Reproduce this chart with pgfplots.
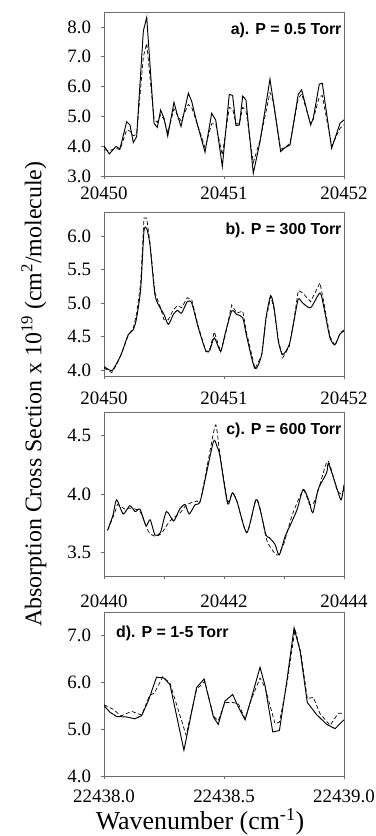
\documentclass[border=0pt]{standalone}
\usepackage{fontspec}
\setmainfont{Liberation Serif}
\newfontfamily\lsans{Liberation Sans}
\usepackage{pgfplots}
\pgfplotsset{compat=1.18}
\tikzset{plab/.style={font=\lsans\bfseries\fontsize{16}{16}\selectfont, inner sep=0pt}}
\begin{document}
\begin{tikzpicture}
\useasboundingbox (0bp,0bp) rectangle (376bp,836bp);
\pgfplotsset{
  panel/.style={
    width=240bp, height=164bp, scale only axis,
    anchor=south west,
    axis line style={draw=gray!85!black, line width=0.8bp},
    every tick/.style={draw=gray!85!black, line width=0.8bp},
    tick align=outside, major tick length=3.5bp,
    tick pos=left,
    scaled x ticks=false, scaled y ticks=false,
    tick label style={font=\fontsize{19}{19}\selectfont},
    yticklabel style={/pgf/number format/.cd, fixed, fixed zerofill, precision=1, assume math mode=true},
    yticklabel shift=6bp,
    clip=true,
  },
  solidl/.style={black, line width=0.95bp, mark=none},
  dashl/.style={black, line width=0.7bp, dash pattern=on 4bp off 2.5bp, mark=none},
}
% ---------- a
\begin{axis}[panel, at={(104bp,660bp)},
  xmin=20450, xmax=20452, ymin=3, ymax=8.5,
  xtick={20450,20451,20452}, xticklabels={20450,20451,20452},
  xticklabel shift=4bp,
  ytick={3,4,5,6,7,8}]
\addplot[solidl] coordinates {(20450.000,4.01)(20450.044,3.74)(20450.100,3.99)(20450.133,3.91)(20450.189,4.82)(20450.217,4.71)(20450.244,4.12)(20450.272,4.32)(20450.328,7.87)(20450.356,8.32)(20450.417,4.77)(20450.444,4.63)(20450.472,5.21)(20450.500,4.94)(20450.531,4.34)(20450.583,5.47)(20450.611,5.05)(20450.642,4.66)(20450.703,5.78)(20450.731,5.50)(20450.772,4.82)(20450.842,3.80)(20450.897,5.10)(20450.931,4.88)(20450.986,3.32)(20451.044,5.74)(20451.072,5.70)(20451.100,4.69)(20451.128,4.71)(20451.156,5.68)(20451.183,5.55)(20451.244,3.09)(20451.300,4.15)(20451.383,6.25)(20451.411,5.50)(20451.472,3.82)(20451.508,3.95)(20451.550,4.04)(20451.619,5.74)(20451.647,5.89)(20451.722,4.71)(20451.744,4.94)(20451.794,6.08)(20451.819,6.11)(20451.897,3.93)(20451.967,4.77)(20452.000,4.88)};
\addplot[dashl] coordinates {(20450.000,3.88)(20450.044,3.85)(20450.100,3.93)(20450.133,3.88)(20450.189,4.55)(20450.217,4.50)(20450.244,4.35)(20450.272,4.40)(20450.328,7.00)(20450.356,7.45)(20450.417,4.90)(20450.444,4.80)(20450.472,5.05)(20450.500,4.90)(20450.531,4.45)(20450.583,5.25)(20450.611,5.05)(20450.642,4.85)(20450.703,5.40)(20450.731,5.30)(20450.842,3.95)(20450.897,4.75)(20450.931,4.75)(20450.986,3.70)(20451.044,5.30)(20451.072,5.25)(20451.100,4.75)(20451.128,4.75)(20451.156,5.30)(20451.183,5.20)(20451.244,3.45)(20451.300,4.20)(20451.383,5.80)(20451.411,5.50)(20451.472,3.90)(20451.508,3.95)(20451.550,4.10)(20451.619,5.60)(20451.647,5.75)(20451.722,4.75)(20451.744,4.90)(20451.794,5.65)(20451.819,5.70)(20451.897,4.00)(20451.967,4.60)(20452.000,4.72)};
\node[plab, anchor=east] at (rel axis cs:0.99,0.885) {a). P = 0.5 Torr};
\end{axis}
% ---------- b
\begin{axis}[panel, at={(104bp,460bp)},
  xmin=20450, xmax=20452, ymin=3.91, ymax=6.36,
  xtick={20450,20451,20452}, xticklabels={20450,20451,20452},
  xticklabel shift=9bp,
  ytick={4,4.5,5,5.5,6}]
\addplot[solidl, smooth, tension=0.4] coordinates {(20450.000,4.05)(20450.064,3.99)(20450.106,4.10)(20450.147,4.25)(20450.203,4.53)(20450.244,4.60)(20450.272,4.78)(20450.306,5.22)(20450.333,6.07)(20450.356,6.11)(20450.383,5.87)(20450.425,5.12)(20450.467,4.93)(20450.500,4.83)(20450.536,4.68)(20450.578,4.83)(20450.611,4.89)(20450.647,4.85)(20450.694,5.02)(20450.731,5.00)(20450.786,4.63)(20450.850,4.28)(20450.883,4.30)(20450.919,4.48)(20450.972,4.28)(20451.008,4.53)(20451.064,4.88)(20451.106,4.83)(20451.156,4.78)(20451.189,4.50)(20451.258,4.02)(20451.314,4.23)(20451.350,4.78)(20451.389,5.11)(20451.417,4.93)(20451.453,4.43)(20451.489,4.23)(20451.544,4.38)(20451.583,4.73)(20451.619,5.06)(20451.656,5.00)(20451.722,4.93)(20451.800,5.15)(20451.833,4.93)(20451.883,4.48)(20451.925,4.38)(20451.967,4.54)(20452.000,4.58)};
\addplot[dashl] coordinates {(20450.000,4.03)(20450.064,3.96)(20450.106,4.08)(20450.147,4.25)(20450.203,4.52)(20450.244,4.62)(20450.272,4.85)(20450.306,5.30)(20450.333,6.27)(20450.356,6.27)(20450.383,5.90)(20450.425,5.15)(20450.467,4.95)(20450.500,4.75)(20450.536,4.75)(20450.578,4.90)(20450.611,4.96)(20450.647,4.93)(20450.694,5.08)(20450.731,5.05)(20450.786,4.65)(20450.850,4.27)(20450.883,4.32)(20450.919,4.57)(20450.972,4.27)(20451.008,4.50)(20451.064,4.97)(20451.106,4.85)(20451.156,4.88)(20451.189,4.55)(20451.258,4.02)(20451.314,4.22)(20451.350,4.75)(20451.389,5.10)(20451.417,4.92)(20451.453,4.45)(20451.489,4.18)(20451.544,4.35)(20451.583,4.75)(20451.619,5.19)(20451.656,5.15)(20451.722,5.02)(20451.800,5.30)(20451.833,5.00)(20451.883,4.50)(20451.925,4.36)(20451.967,4.55)(20452.000,4.60)};
\node[plab, anchor=east] at (rel axis cs:0.99,0.885) {b). P = 300 Torr};
\end{axis}
% ---------- c
\begin{axis}[panel, at={(104bp,260bp)},
  xmin=20440, xmax=20444, ymin=3.3, ymax=4.7,
  xtick={20440,20441,20442,20443,20444}, xticklabels={20440,,20442,,20444},
  xticklabel shift=12bp,
  ytick={3.5,4,4.5}]
\addplot[solidl, smooth, tension=0.4] coordinates {(20440.06,3.69)(20440.15,3.82)(20440.21,3.95)(20440.32,3.83)(20440.43,3.90)(20440.52,3.85)(20440.60,3.87)(20440.70,3.73)(20440.77,3.78)(20440.85,3.65)(20440.94,3.67)(20441.04,3.85)(20441.16,3.77)(20441.26,3.87)(20441.35,3.91)(20441.42,3.83)(20441.52,3.91)(20441.61,3.95)(20441.82,4.44)(20441.88,4.41)(20441.93,4.33)(20442.06,3.92)(20442.14,4.01)(20442.22,3.93)(20442.38,3.67)(20442.53,3.95)(20442.60,3.87)(20442.70,3.65)(20442.75,3.63)(20442.85,3.57)(20442.92,3.48)(20443.02,3.64)(20443.11,3.74)(20443.22,3.87)(20443.32,4.04)(20443.41,3.95)(20443.48,3.84)(20443.57,4.04)(20443.71,4.18)(20443.74,4.26)(20443.85,4.10)(20443.95,3.95)(20444.00,4.08)};
\addplot[dashl, smooth, tension=0.4] coordinates {(20440.06,3.69)(20440.18,3.84)(20440.23,3.91)(20440.35,3.87)(20440.43,3.88)(20440.60,3.85)(20440.74,3.68)(20440.85,3.64)(20440.95,3.66)(20441.10,3.77)(20441.27,3.84)(20441.38,3.91)(20441.55,3.94)(20441.61,3.95)(20441.84,4.56)(20441.88,4.55)(20441.93,4.35)(20442.06,3.94)(20442.14,4.01)(20442.22,3.93)(20442.38,3.67)(20442.53,3.95)(20442.60,3.88)(20442.71,3.61)(20442.82,3.51)(20442.90,3.48)(20443.00,3.58)(20443.13,3.81)(20443.32,4.03)(20443.43,3.91)(20443.52,3.95)(20443.71,4.27)(20443.77,4.24)(20443.88,4.04)(20443.95,4.00)(20444.00,4.04)};
\node[plab, anchor=east] at (rel axis cs:0.99,0.885) {c). P = 600 Torr};
\end{axis}
% ---------- d
\begin{axis}[panel, at={(104bp,60bp)},
  xmin=22438, xmax=22439, ymin=4, ymax=7.5,
  xtick={22438,22438.5,22439}, xticklabels={22438.0,22438.5,22439.0},
  xticklabel shift=9bp,
  xticklabel style={inner sep=1bp},
  ytick={4,5,6,7}]
\addplot[solidl] coordinates {(22438.000,5.50)(22438.025,5.36)(22438.053,5.27)(22438.094,5.26)(22438.129,5.22)(22438.157,5.29)(22438.185,5.61)(22438.219,6.11)(22438.250,6.09)(22438.275,5.95)(22438.333,4.55)(22438.386,5.89)(22438.417,6.07)(22438.456,5.26)(22438.476,5.10)(22438.504,5.60)(22438.536,5.74)(22438.560,5.47)(22438.588,5.20)(22438.615,5.68)(22438.650,6.32)(22438.671,5.93)(22438.703,4.94)(22438.731,4.97)(22438.761,6.00)(22438.792,7.16)(22438.817,6.67)(22438.847,5.57)(22438.886,5.31)(22438.928,5.10)(22438.963,5.01)(22439.000,5.20)};
\addplot[dashl] coordinates {(22438.000,5.52)(22438.040,5.42)(22438.070,5.28)(22438.115,5.38)(22438.157,5.30)(22438.190,5.72)(22438.210,5.77)(22438.245,6.12)(22438.275,5.98)(22438.342,4.87)(22438.386,5.85)(22438.420,6.02)(22438.456,5.28)(22438.476,5.18)(22438.504,5.57)(22438.536,5.57)(22438.560,5.54)(22438.588,5.22)(22438.615,5.65)(22438.650,6.09)(22438.671,5.89)(22438.713,5.11)(22438.731,5.15)(22438.761,5.93)(22438.796,7.13)(22438.820,6.64)(22438.847,5.65)(22438.872,5.68)(22438.900,5.33)(22438.942,5.08)(22438.976,5.34)(22439.000,5.34)};
\node[plab, anchor=west] at (rel axis cs:0.05,0.87) {d). P = 1-5 Torr};
\end{axis}
\node[rotate=90, font=\fontsize{24}{24}\selectfont] at (34bp,442bp) {Absorption Cross Section x 10\textsuperscript{19} (cm\textsuperscript{2}/molecule)};
\node[font=\fontsize{26}{26}\selectfont, inner sep=0pt, anchor=base] at (200bp,7bp) {Wavenumber (cm\textsuperscript{-1})};
\end{tikzpicture}
\end{document}
